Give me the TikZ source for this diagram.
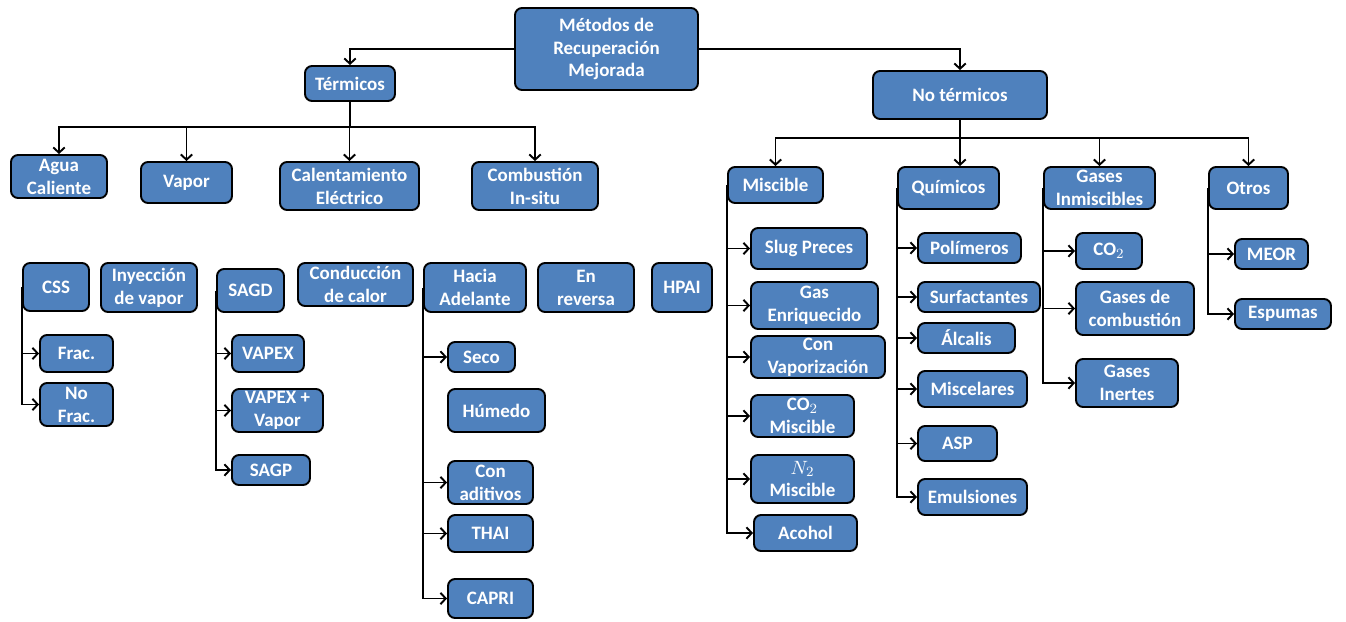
\documentclass[tikz,border=0pt]{standalone}
\usepackage{fontspec}
\setmainfont{Carlito}
\usepackage{tikz}
\usetikzlibrary{arrows.meta,backgrounds}

\definecolor{boxblue}{HTML}{4F81BD}

\begin{document}
\begin{tikzpicture}[x=0.02cm, y=-0.02cm,
    box/.style={draw, line width=1.1pt, rounded corners=4pt, fill=boxblue, text=white, align=center, inner sep=1pt, font=\fontsize{10.8}{13}\selectfont\bfseries},
    sz/.style 2 args={minimum width=#1*0.02cm, minimum height=#2*0.02cm},
    arr/.style={-{Straight Barb[length=3pt,width=6.5pt]}, line width=1.1pt}
]
\useasboundingbox (0,0) rectangle (1346,622);

\node[box, sz={183}{82}] (root) at (606.5,49) {Métodos de\\Recuperación\\Mejorada};
\node[box, sz={90}{35}] (term) at (350,83.5) {Térmicos};
\node[box, sz={174}{48}] (noterm) at (960,95) {No térmicos};

% termicos
\node[box, sz={96}{43}] (agua) at (59,176.5) {Agua\\Caliente};
\node[box, sz={91}{41}] (vapor) at (186.5,182.5) {Vapor};
\node[box, sz={139}{48}] (calent) at (349.5,186) {Calentamiento\\Eléctrico};
\node[box, sz={126}{48}] (combus) at (535,186) {Combustión\\In-situ};

\node[box, sz={66}{48}] (css) at (56,287) {CSS};
\node[box, sz={96}{49}] (inyec) at (149,287.5) {Inyección\\de vapor};
\node[box, sz={73}{37}] (frac) at (76.5,353.5) {Frac.};
\node[box, sz={73}{43}] (nofrac) at (76.5,404.5) {No\\Frac.};

\node[box, sz={67}{43}] (sagd) at (250.5,290.5) {SAGD};
\node[box, sz={115}{43}] (conduc) at (355.5,284.5) {Conducción\\de calor};
\node[box, sz={72}{37}] (vapex) at (268,353.5) {VAPEX};
\node[box, sz={91}{43}] (vapexv) at (277.5,410.5) {VAPEX +\\Vapor};
\node[box, sz={78}{30}] (sagp) at (271,470) {SAGP};

\node[box, sz={102}{49}] (hacia) at (475,287.5) {Hacia\\Adelante};
\node[box, sz={96}{49}] (reversa) at (586,287.5) {En\\reversa};
\node[box, sz={60}{49}] (hpai) at (682,287.5) {HPAI};
\node[box, sz={67}{30}] (seco) at (481.5,357) {Seco};
\node[box, sz={97}{43}] (humedo) at (496.5,410.5) {Húmedo};
\node[box, sz={85}{43}] (aditiv) at (490.5,482.5) {Con\\aditivos};
\node[box, sz={85}{37}] (thai) at (490.5,533.5) {THAI};
\node[box, sz={85}{39}] (capri) at (490.5,598.5) {CAPRI};

% no termicos
\node[box, sz={95}{36}] (misc) at (775.5,185) {Miscible};
\node[box, sz={101}{42}] (quim) at (948.5,188) {Químicos};
\node[box, sz={111}{42}] (gasinm) at (1099.5,188) {Gases\\Inmiscibles};
\node[box, sz={79}{42}] (otros) at (1248.5,188) {Otros};

\node[box, sz={116}{41}] (slug) at (809,248.5) {Slug Preces};
\node[box, sz={127}{47}] (gasenr) at (814.5,305.5) {Gas\\Enriquecido};
\node[box, sz={134}{42}] (convap) at (818,357) {Con\\Vaporización};
\node[box, sz={103}{42}] (co2m) at (802.5,416) {CO$_2$\\Miscible};
\node[box, sz={103}{48}] (n2m) at (802.5,479) {$N_2$\\Miscible};
\node[box, sz={103}{36}] (acohol) at (805.5,533) {Acohol};

\node[box, sz={103}{30}] (polim) at (969.5,248) {Polímeros};
\node[box, sz={122}{30}] (surf) at (979,297) {Surfactantes};
\node[box, sz={97}{30}] (alcal) at (966.5,338) {Álcalis};
\node[box, sz={109}{36}] (miscel) at (972.5,389) {Miscelares};
\node[box, sz={79}{35}] (asp) at (957.5,443.5) {ASP};
\node[box, sz={109}{36}] (emul) at (972.5,497) {Emulsiones};

\node[box, sz={66}{36}] (co2) at (1109,251) {CO$_2$};
\node[box, sz={118}{53}] (gascomb) at (1135,308.5) {Gases de\\combustión};
\node[box, sz={102}{48}] (gasinert) at (1127,383) {Gases\\Inertes};

\node[box, sz={73}{30}] (meor) at (1271.5,254) {MEOR};
\node[box, sz={96}{30}] (espum) at (1283,314) {Espumas};

\begin{scope}[on background layer]
\draw[arr] (root.west) -| (term.north);
\draw[arr] (root.east) -| (noterm.north);
\foreach \c in {agua,vapor,calent,combus}
    \draw[arr] (term.south) -- ++(0,25) -| (\c.north);
\foreach \c in {misc,gasinm,otros}
    \draw[arr] (noterm.south) -- ++(0,18) -| (\c.north);
\draw[arr] (noterm.south) -- (noterm.south |- quim.north);

\foreach \c in {frac,nofrac}
    \draw[arr] (css.west) |- (\c.west);
\foreach \c in {vapex,vapexv,sagp}
    \draw[arr] (sagd.west) |- (\c.west);
\foreach \c in {seco,aditiv,thai,capri}
    \draw[arr] (hacia.west) |- (\c.west);
\foreach \c in {slug,gasenr,convap,co2m,n2m,acohol}
    \draw[arr] (misc.west) |- (\c.west);
\foreach \c in {polim,surf,alcal,miscel,asp,emul}
    \draw[arr] (quim.west) |- (\c.west);
\foreach \c in {co2,gascomb,gasinert}
    \draw[arr] (gasinm.west) |- (\c.west);
\foreach \c in {meor,espum}
    \draw[arr] (otros.west) |- (\c.west);
\end{scope}
\end{tikzpicture}
\end{document}
